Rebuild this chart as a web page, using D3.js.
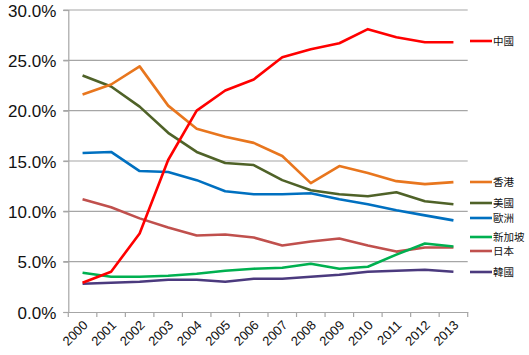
<!DOCTYPE html>
<html><head><meta charset="utf-8">
<script src="https://cdn.jsdelivr.net/npm/d3@7"></script>
<style>body{margin:0;background:#fff;}svg{display:block;}</style>
</head><body><svg id="c" width="529" height="355"></svg>
<script>
const years = ["2000","2001","2002","2003","2004","2005","2006","2007","2008","2009","2010","2011","2012","2013"];
const yTicks = [0,5,10,15,20,25,30];
const seriesNames = ["中國","香港","美國","歐洲","新加坡","日本","韓國"];
const seriesColors = ["#FF0000","#E8761E","#4F6228","#0070C0","#00B050","#C0504D","#4B3A7E"];
const china     = [2.9,4.0,7.8,15.1,20.0,22.0,23.1,25.3,26.1,26.7,28.1,27.3,26.8,26.8];
const hongkong  = [21.6,22.6,24.4,20.5,18.2,17.4,16.8,15.5,12.8,14.5,13.8,13.0,12.7,12.9];
const usa       = [23.5,22.4,20.4,17.8,15.9,14.8,14.6,13.1,12.1,11.7,11.5,11.9,11.0,10.7];
const europe    = [15.8,15.9,14.0,13.9,13.1,12.0,11.7,11.7,11.8,11.2,10.7,10.1,9.6,9.1];
const singapore = [3.9,3.5,3.5,3.6,3.8,4.1,4.3,4.4,4.8,4.3,4.5,5.7,6.8,6.5];
const japan     = [11.2,10.4,9.3,8.4,7.6,7.7,7.4,6.6,7.0,7.3,6.6,6.0,6.4,6.4];
const korea     = [2.8,2.9,3.0,3.2,3.2,3.0,3.3,3.3,3.5,3.7,4.0,4.1,4.2,4.0];
const seriesValues = [china,hongkong,usa,europe,singapore,japan,korea];
const legendY = [41,182,203,218,237,251,272];

const svg = d3.select("#c");
const mLeft = 68.3, mRight = 467.7, mTop = 10, mBottom = 312;
const x = d3.scaleBand().domain(years).range([mLeft,mRight]);
const y = d3.scaleLinear().domain([0,30]).range([mBottom,mTop]);

// gridlines
svg.append("g").selectAll("line").data(yTicks.filter(d=>d>0)).join("line")
  .attr("x1",mLeft-5).attr("x2",mRight).attr("y1",d=>y(d)).attr("y2",d=>y(d))
  .attr("stroke","#a6a6a6").attr("stroke-width",1.2);

// y axis
const ya = svg.append("g").attr("transform",`translate(${mLeft},0)`)
  .call(d3.axisLeft(y).tickValues(yTicks).tickSize(5).tickFormat(d=>d.toFixed(1)+"%"));
ya.select(".domain").attr("stroke","#a6a6a6").attr("stroke-width",1.2);
ya.selectAll(".tick line").attr("stroke","#a6a6a6").attr("stroke-width",1.2);
ya.selectAll("text").attr("font-family","Liberation Sans, Arial, sans-serif").attr("font-size",17)
  .attr("fill","#111").attr("x",-12).attr("dy","0.36em");

// x axis
const xa = svg.append("g").attr("transform",`translate(0,${mBottom})`)
  .call(d3.axisBottom(x).tickSize(0).tickFormat(d=>d));
xa.select(".domain").attr("stroke","#a6a6a6").attr("stroke-width",1.2);
xa.selectAll("text").attr("font-family","Liberation Sans, Arial, sans-serif").attr("font-size",13)
  .attr("fill","#111").attr("text-anchor","end").attr("dy",null).attr("y",0)
  .attr("transform","translate(6,14) rotate(-45)");
// boundary ticks
svg.append("g").selectAll("line").data(d3.range(years.length+1)).join("line")
  .attr("x1",i=>mLeft+i*x.step()).attr("x2",i=>mLeft+i*x.step())
  .attr("y1",mBottom).attr("y2",mBottom+5).attr("stroke","#a6a6a6").attr("stroke-width",1.2);

// lines
const line = d3.line().x((d,i)=>x(years[i])+x.bandwidth()/2).y(d=>y(d));
const order = [6,5,4,3,2,1,0];
svg.append("g").selectAll("path").data(order).join("path")
  .attr("d",k=>line(seriesValues[k])).attr("fill","none")
  .attr("stroke",k=>seriesColors[k]).attr("stroke-width",2.6).attr("stroke-linejoin","round");

// legend
const lg = svg.append("g").selectAll("g").data(seriesNames).join("g")
  .attr("transform",(d,i)=>`translate(470,${legendY[i]})`);
lg.append("line").attr("x1",0).attr("x2",22).attr("y1",0).attr("y2",0)
  .attr("stroke",(d,i)=>seriesColors[i]).attr("stroke-width",2.6);
lg.append("text").attr("x",23).attr("dy","0.36em").text(d=>d)
  .attr("font-family","Noto Sans CJK TC, sans-serif").attr("font-size",10.5).attr("fill","#111");
</script></body></html>
